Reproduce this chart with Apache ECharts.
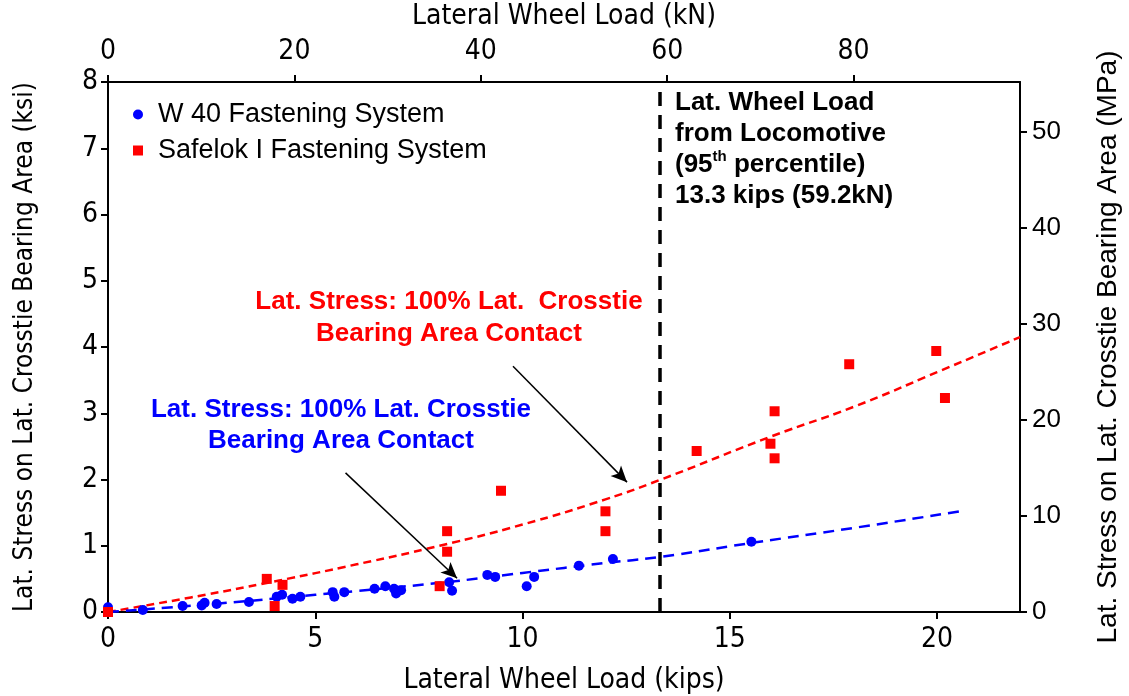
<!DOCTYPE html>
<html>
<head>
<meta charset="utf-8">
<script src="https://cdn.jsdelivr.net/npm/echarts@6/dist/echarts.min.js"></script>
<style>
  html, body { margin: 0; padding: 0; background: #fff; }
  #main { width: 1129px; height: 696px; }
</style>
</head>
<body>
<div id="main"></div>
<script>
// measured points, [kips, ksi]
var w40Points = [
  [0, 0.07], [0.84, 0.03], [1.8, 0.09], [2.26, 0.1], [2.33, 0.14], [2.62, 0.12],
  [3.4, 0.15], [4.07, 0.23], [4.2, 0.26], [4.45, 0.2], [4.64, 0.23],
  [5.42, 0.3], [5.46, 0.23], [5.7, 0.3], [6.43, 0.35], [6.69, 0.39], [6.9, 0.35],
  [6.95, 0.28], [7.07, 0.33], [8.23, 0.45], [8.3, 0.32], [9.15, 0.56], [9.34, 0.53],
  [10.1, 0.39], [10.28, 0.53], [11.36, 0.7], [12.18, 0.8], [15.52, 1.06]
];
var safelokPoints = [
  [0, 0], [3.83, 0.5], [4.21, 0.41], [4.02, 0.09], [8.0, 0.39], [8.18, 0.91],
  [8.18, 1.22], [9.48, 1.83], [12.0, 1.52], [12.0, 1.22], [14.2, 2.43],
  [15.98, 2.54], [16.08, 2.32], [16.08, 3.03], [17.88, 3.74], [19.98, 3.94], [20.19, 3.23]
];
// dashed trend curves
var w40Curve = [
  [0, 0], [2.5, 0.12], [5, 0.26], [8, 0.44], [10, 0.59], [12, 0.74],
  [13.3, 0.83], [15.5, 1.04], [18, 1.27], [20.55, 1.52]
];
var safelokCurve = [
  [0, 0], [2, 0.22], [4, 0.46], [6, 0.72], [8, 1.0], [10, 1.32], [12, 1.7],
  [13.3, 1.99], [16, 2.65], [18, 3.1], [20, 3.62], [22, 4.15]
];
var locoLoad = 13.3; // kips
var redArrow = [[9.77, 3.71], [12.52, 1.96]];
var blueArrow = [[5.73, 2.1], [8.42, 0.51]];

// tick values
var kipsTicks = [0, 5, 10, 15, 20];
var kNTicks = [0, 20, 40, 60, 80];
var ksiTicks = [0, 1, 2, 3, 4, 5, 6, 7, 8];
var mpaTicks = [0, 10, 20, 30, 40, 50];

var KN_PER_KIP = 4.448;
var MPA_PER_KSI = 6.895;
var xMax = 22, yMax = 8;

var narrow = "'DejaVu Sans Condensed', 'Liberation Sans Narrow', sans-serif";
var arial = "'Liberation Sans', Arial, sans-serif";

var chart = echarts.init(document.getElementById('main'));

var axisLine = { show: true, onZero: false, lineStyle: { color: '#000', width: 2 } };
function ticks(vals) {
  return { show: true, inside: false, length: 7, customValues: vals, lineStyle: { color: '#000', width: 2 } };
}

var option = {
  animation: false,
  backgroundColor: '#fff',
  grid: { left: 108, right: 109, top: 82, bottom: 84, show: false, outerBoundsMode: 'none', containLabel: false },
  legend: {
    orient: 'vertical',
    left: 128,
    top: 96,
    itemWidth: 10,
    itemHeight: 10,
    itemGap: 9,
    textStyle: { fontFamily: arial, fontSize: 27, color: '#000', padding: [0, 0, 0, 10] },
    data: [
      { name: 'W 40 Fastening System', icon: 'circle' },
      { name: 'Safelok I Fastening System', icon: 'rect' }
    ]
  },
  xAxis: [
    {
      type: 'value', position: 'bottom', min: 0, max: xMax,
      name: 'Lateral Wheel Load (kips)', nameLocation: 'middle', nameGap: 55,
      nameTextStyle: { fontFamily: narrow, fontSize: 28, color: '#000' },
      axisLine: axisLine, axisTick: ticks(kipsTicks), splitLine: { show: false },
      axisLabel: { fontFamily: narrow, fontSize: 28, color: '#000', margin: 14, customValues: kipsTicks }
    },
    {
      type: 'value', position: 'top', min: 0, max: xMax * KN_PER_KIP,
      name: 'Lateral Wheel Load (kN)', nameLocation: 'middle', nameGap: 51,
      nameTextStyle: { fontFamily: narrow, fontSize: 28, color: '#000' },
      axisLine: axisLine, axisTick: ticks(kNTicks), splitLine: { show: false },
      axisLabel: { fontFamily: narrow, fontSize: 28, color: '#000', margin: 16, customValues: kNTicks }
    }
  ],
  yAxis: [
    {
      type: 'value', position: 'left', min: 0, max: yMax,
      name: 'Lat. Stress on Lat. Crosstie Bearing Area (ksi)', nameLocation: 'middle', nameGap: 70,
      nameTextStyle: { fontFamily: narrow, fontSize: 26, color: '#000' },
      axisLine: axisLine, axisTick: ticks(ksiTicks), splitLine: { show: false },
      axisLabel: { fontFamily: narrow, fontSize: 28, color: '#000', margin: 10, customValues: ksiTicks }
    },
    {
      type: 'value', position: 'right', min: 0, max: yMax * MPA_PER_KSI,
      name: 'Lat. Stress on Lat. Crosstie Bearing Area (MPa)', nameLocation: 'middle', nameGap: 74,
      nameTextStyle: { fontFamily: arial, fontSize: 28, color: '#000' },
      axisLine: axisLine, axisTick: ticks(mpaTicks), splitLine: { show: false },
      axisLabel: { fontFamily: arial, fontSize: 26, color: '#000', margin: 12, customValues: mpaTicks }
    }
  ],
  series: [
    {
      name: 'Safelok trend', type: 'line', data: safelokCurve, smooth: true,
      showSymbol: false, silent: true, z: 2,
      lineStyle: { color: '#ff0000', width: 2.5, type: [8, 5] }
    },
    {
      name: 'W40 trend', type: 'line', data: w40Curve, smooth: true,
      showSymbol: false, silent: true, z: 2,
      lineStyle: { color: '#0000ff', width: 2.5, type: [11, 7] },
      markLine: {
        silent: true, symbol: ['none', 'none'], label: { show: false },
        lineStyle: { color: '#000', width: 3.5, type: [14, 9] },
        data: [{ xAxis: locoLoad }]
      }
    },
    {
      name: 'W 40 Fastening System', type: 'scatter', data: w40Points,
      symbol: 'circle', symbolSize: 10, z: 4,
      itemStyle: { color: '#0000ff', opacity: 1 }
    },
    {
      name: 'Safelok I Fastening System', type: 'scatter', data: safelokPoints,
      symbol: 'rect', symbolSize: 10, z: 4,
      itemStyle: { color: '#ff0000', opacity: 1 },
      markLine: {
        silent: true, symbol: ['none', 'arrow'], symbolSize: [11, 16], label: { show: false },
        lineStyle: { color: '#000', width: 1.5, type: 'solid' },
        data: [
          [{ coord: redArrow[0] }, { coord: redArrow[1] }],
          [{ coord: blueArrow[0] }, { coord: blueArrow[1] }]
        ]
      }
    }
  ],
  graphic: [
    {
      type: 'text', left: 675, top: 87,
      style: {
        text: 'Lat. Wheel Load\nfrom Locomotive\n(95{sup|th} percentile)\n13.3 kips (59.2kN)',
        fontFamily: arial, fontWeight: 'bold', fontSize: 26, lineHeight: 31, fill: '#000',
        rich: { sup: { fontFamily: arial, fontWeight: 'bold', fontSize: 15, verticalAlign: 'top', lineHeight: 31, padding: [0, 0, 12, 0] } }
      }
    },
    {
      type: 'text', x: 449, y: 318,
      style: {
        text: 'Lat. Stress: 100% Lat.  Crosstie\nBearing Area Contact',
        fontFamily: arial, fontWeight: 'bold', fontSize: 26, lineHeight: 32,
        fill: '#ff0000', align: 'center', verticalAlign: 'middle'
      }
    },
    {
      type: 'text', x: 341, y: 425,
      style: {
        text: 'Lat. Stress: 100% Lat. Crosstie\nBearing Area Contact',
        fontFamily: arial, fontWeight: 'bold', fontSize: 26, lineHeight: 31,
        fill: '#0000ff', align: 'center', verticalAlign: 'middle'
      }
    }
  ]
};

chart.setOption(option);
</script>
</body>
</html>
